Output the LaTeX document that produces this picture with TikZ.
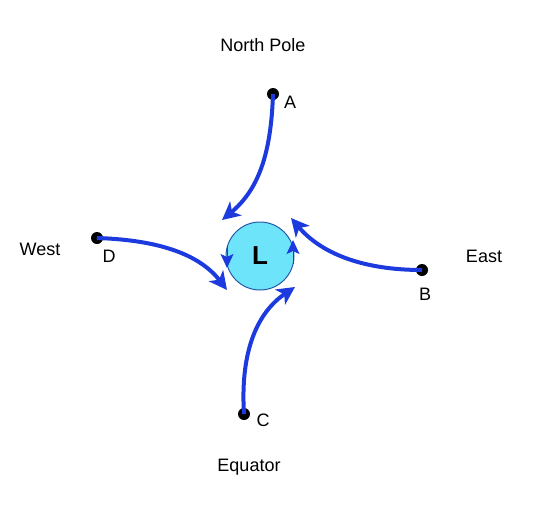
\documentclass[tikz,border=0pt]{standalone}
\usepackage{fontspec}
\setmainfont{Liberation Sans}
\usetikzlibrary{arrows.meta}
\definecolor{flow}{RGB}{28,58,222}
\definecolor{lowfill}{RGB}{110,228,250}
\definecolor{lowedge}{RGB}{40,90,170}
\tikzset{
  dot/.style={circle,fill=black,inner sep=0pt,minimum size=12pt},
  lbl/.style={font=\fontsize{18}{21}\selectfont,inner sep=0pt},
  flowarrow/.style={draw=flow,line width=4pt,-{Stealth[length=18pt,width=18pt,inset=5pt]}},
  spin/.style={draw=flow,line width=1pt,-{Stealth[length=14pt,width=13pt,inset=3pt]}},
  low/.style={circle,draw=lowedge,line width=1pt,fill=lowfill,minimum size=68pt,inner sep=0pt,font=\fontsize{26}{30}\selectfont\bfseries}
}
\begin{document}
\begin{tikzpicture}[x=1pt,y=-1pt]
\useasboundingbox (0,0) rectangle (540,511);
\node[low] (L) at (260,256) {L};
\node[dot] (A) at (273,94) {};
\node[dot] (B) at (422,270) {};
\node[dot] (C) at (244,414) {};
\node[dot] (D) at (97,238) {};
\coordinate (Aend) at (222,220);
\coordinate (Bend) at (291,218);
\coordinate (Cend) at (295,287);
\coordinate (Dend) at (227,290);
\coordinate (ls) at (227,246);
\coordinate (le) at (227,268);
\coordinate (rs) at (293,264);
\coordinate (re) at (293,240);
\node[lbl] (np) at (263,45) {North Pole};
\node[lbl] (la) at (290,102) {A};
\node[lbl] (west) at (40,249) {West};
\node[lbl] (ld) at (109,256) {D};
\node[lbl] (east) at (484,256) {East};
\node[lbl] (lb) at (425,294) {B};
\node[lbl] (lc) at (263,420) {C};
\node[lbl] (eq) at (249,467) {Equator};
\draw[flowarrow] (A.center) .. controls (271,155) and (258,190) .. (Aend);
\draw[flowarrow] (D.center) .. controls (160,240) and (200,255) .. (Dend);
\draw[flowarrow] (B.center) .. controls (360,270) and (320,252) .. (Bend);
\draw[flowarrow] (C.center) .. controls (240,350) and (258,312) .. (Cend);
\draw[spin] (ls) -- (le);
\draw[spin] (rs) -- (re);
\end{tikzpicture}
\end{document}
